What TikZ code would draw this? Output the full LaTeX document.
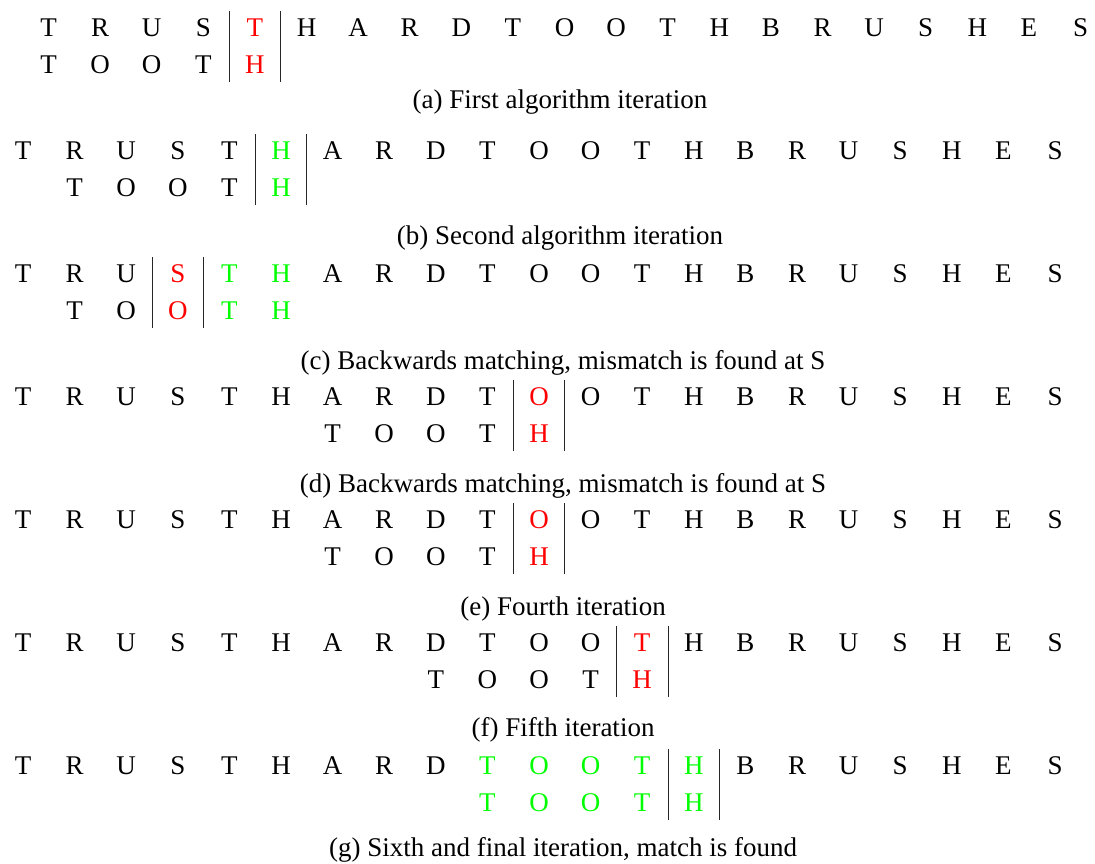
\documentclass[tikz,border=0pt]{standalone}
\usepackage{fontspec}
\setmainfont{Liberation Serif}
\definecolor{mred}{RGB}{255,0,0}
\definecolor{mgreen}{RGB}{0,255,0}
\definecolor{K}{RGB}{0,0,0}
\tikzset{
  lt/.style={anchor=base, inner sep=0pt, font=\fontsize{27}{32}\selectfont},
  captext/.style={anchor=base, inner sep=0pt, font=\fontsize{27}{32}\selectfont},
  sepbar/.style={draw=black!85, line width=0.9pt},
}
\def\P{51.6}
% #1 name, #2 x0, #3 baseline y, #4 list letter/colour
\newcommand\mkrow[4]{\foreach \l/\c [count=\i from 0] in {#4} {\node[lt,text=\c] (#1-\i) at ({#2+\i*\P},#3) {\l};}}
% #1 name, #2 x, #3 top, #4 bottom
\newcommand\mkbar[4]{\coordinate (#1-t) at (#2,#3); \coordinate (#1-b) at (#2,#4); \draw[sepbar] (#1-t) -- (#1-b);}
\begin{document}
\begin{tikzpicture}[x=1pt,y=-1pt]
\useasboundingbox (0,0) rectangle (1095,863);
% (a)
\mkrow{at}{48.5}{36}{T/K,R/K,U/K,S/K,T/mred,H/K,A/K,R/K,D/K,T/K,O/K,O/K,T/K,H/K,B/K,R/K,U/K,S/K,H/K,E/K,S/K}
\mkrow{ap}{48.5}{73}{T/K,O/K,O/K,T/K,H/mred}
\mkbar{ab1}{48.5+3.5*\P}{11}{82}
\mkbar{ab2}{48.5+4.5*\P}{11}{82}
\node[captext] (capa) at (560,108) {(a) First algorithm iteration};
% (b)
\mkrow{bt}{23}{159}{T/K,R/K,U/K,S/K,T/K,H/mgreen,A/K,R/K,D/K,T/K,O/K,O/K,T/K,H/K,B/K,R/K,U/K,S/K,H/K,E/K,S/K}
\mkrow{bp}{23+\P}{196}{T/K,O/K,O/K,T/K,H/mgreen}
\mkbar{bb1}{23+4.5*\P}{134}{205}
\mkbar{bb2}{23+5.5*\P}{134}{205}
\node[captext] (capb) at (560,244) {(b) Second algorithm iteration};
% (c)
\mkrow{ct}{23}{282}{T/K,R/K,U/K,S/mred,T/mgreen,H/mgreen,A/K,R/K,D/K,T/K,O/K,O/K,T/K,H/K,B/K,R/K,U/K,S/K,H/K,E/K,S/K}
\mkrow{cp}{23+\P}{319}{T/K,O/K,O/mred,T/mgreen,H/mgreen}
\mkbar{cb1}{23+2.5*\P}{257}{328}
\mkbar{cb2}{23+3.5*\P}{257}{328}
\node[captext] (capc) at (563,369) {(c) Backwards matching, mismatch is found at S};
% (d)
\mkrow{dt}{23}{405}{T/K,R/K,U/K,S/K,T/K,H/K,A/K,R/K,D/K,T/K,O/mred,O/K,T/K,H/K,B/K,R/K,U/K,S/K,H/K,E/K,S/K}
\mkrow{dp}{23+6*\P}{442}{T/K,O/K,O/K,T/K,H/mred}
\mkbar{db1}{23+9.5*\P}{380}{451}
\mkbar{db2}{23+10.5*\P}{380}{451}
\node[captext] (capd) at (563,492) {(d) Backwards matching, mismatch is found at S};
% (e)
\mkrow{et}{23}{528}{T/K,R/K,U/K,S/K,T/K,H/K,A/K,R/K,D/K,T/K,O/mred,O/K,T/K,H/K,B/K,R/K,U/K,S/K,H/K,E/K,S/K}
\mkrow{ep}{23+6*\P}{565}{T/K,O/K,O/K,T/K,H/mred}
\mkbar{eb1}{23+9.5*\P}{503}{574}
\mkbar{eb2}{23+10.5*\P}{503}{574}
\node[captext] (cape) at (563,615) {(e) Fourth iteration};
% (f)
\mkrow{ft}{23}{651}{T/K,R/K,U/K,S/K,T/K,H/K,A/K,R/K,D/K,T/K,O/K,O/K,T/mred,H/K,B/K,R/K,U/K,S/K,H/K,E/K,S/K}
\mkrow{fp}{23+8*\P}{688}{T/K,O/K,O/K,T/K,H/mred}
\mkbar{fb1}{23+11.5*\P}{626}{697}
\mkbar{fb2}{23+12.5*\P}{626}{697}
\node[captext] (capf) at (563,736) {(f) Fifth iteration};
% (g)
\mkrow{gt}{23}{774}{T/K,R/K,U/K,S/K,T/K,H/K,A/K,R/K,D/K,T/mgreen,O/mgreen,O/mgreen,T/mgreen,H/mgreen,B/K,R/K,U/K,S/K,H/K,E/K,S/K}
\mkrow{gp}{23+9*\P}{811}{T/mgreen,O/mgreen,O/mgreen,T/mgreen,H/mgreen}
\mkbar{gb1}{23+12.5*\P}{749}{820}
\mkbar{gb2}{23+13.5*\P}{749}{820}
\node[captext] (capg) at (563,856) {(g) Sixth and final iteration, match is found};
\end{tikzpicture}
\end{document}
